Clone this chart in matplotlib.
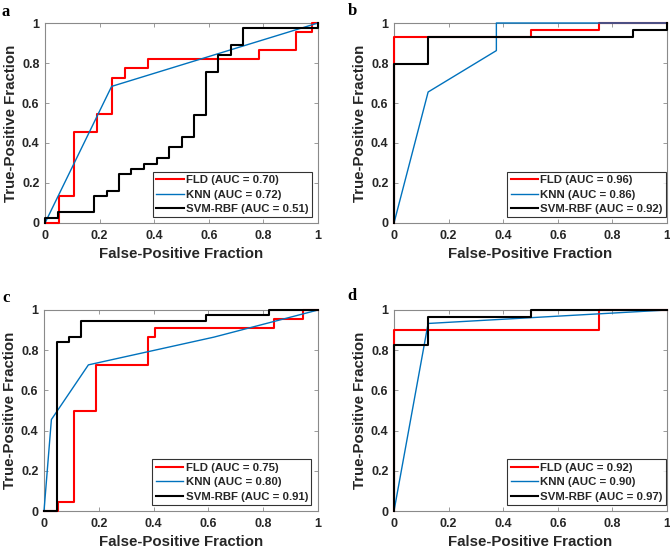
import numpy as np
import matplotlib.pyplot as plt

# ROC corner points, drawn with steps-post
# (KNN curves are straight segments between the points)

# panel a
fld_a_fpr = [0, 0.052, 0.105, 0.19, 0.244, 0.293, 0.378, 0.784, 0.918, 0.977, 1]
fld_a_tpr = [0, 0.136, 0.455, 0.545, 0.727, 0.773, 0.818, 0.864, 0.955, 1, 1]
knn_a_fpr = [0, 0.244, 1]
knn_a_tpr = [0, 0.683, 1]
svm_a_fpr = [0, 0, 0.047, 0.18, 0.226, 0.272, 0.314, 0.363, 0.409, 0.455, 0.5,
             0.546, 0.588, 0.635, 0.681, 0.726, 1]
svm_a_tpr = [0, 0.027, 0.054, 0.135, 0.162, 0.243, 0.27, 0.297, 0.324, 0.378,
             0.432, 0.54, 0.757, 0.838, 0.892, 0.973, 1]

# panel b
fld_b_fpr = [0, 0, 0.5, 0.75, 1]
fld_b_tpr = [0, 0.931, 0.966, 1, 1]
knn_b_fpr = [0, 0.125, 0.375, 0.375, 1]
knn_b_tpr = [0, 0.655, 0.862, 1, 1]
svm_b_fpr = [0, 0, 0.125, 0.875, 1]
svm_b_tpr = [0, 0.793, 0.931, 0.966, 1]

# panel c
fld_c_fpr = [0, 0.051, 0.108, 0.19, 0.38, 0.405, 0.84, 0.946, 1]
fld_c_tpr = [0, 0.045, 0.5, 0.727, 0.864, 0.909, 0.955, 1, 1]
knn_c_fpr = [0, 0.027, 0.162, 0.62, 1]
knn_c_tpr = [0, 0.455, 0.727, 0.865, 1]
svm_c_fpr = [0, 0.047, 0.09, 0.136, 0.59, 0.82, 1]
svm_c_tpr = [0, 0.84, 0.864, 0.946, 0.973, 1, 1]

# panel d
fld_d_fpr = [0, 0, 0.75, 1]
fld_d_tpr = [0, 0.9, 1, 1]
knn_d_fpr = [0, 0.125, 1]
knn_d_tpr = [0, 0.933, 1]
svm_d_fpr = [0, 0, 0.125, 0.5, 1]
svm_d_tpr = [0, 0.828, 0.966, 1, 1]

auc_fld = [0.70, 0.96, 0.75, 0.92]
auc_knn = [0.72, 0.86, 0.80, 0.90]
auc_svm = [0.51, 0.92, 0.91, 0.97]
panel_letters = ['a', 'b', 'c', 'd']

fld_curves = [(fld_a_fpr, fld_a_tpr), (fld_b_fpr, fld_b_tpr),
              (fld_c_fpr, fld_c_tpr), (fld_d_fpr, fld_d_tpr)]
knn_curves = [(knn_a_fpr, knn_a_tpr), (knn_b_fpr, knn_b_tpr),
              (knn_c_fpr, knn_c_tpr), (knn_d_fpr, knn_d_tpr)]
svm_curves = [(svm_a_fpr, svm_a_tpr), (svm_b_fpr, svm_b_tpr),
              (svm_c_fpr, svm_c_tpr), (svm_d_fpr, svm_d_tpr)]

plt.rcParams['font.family'] = ['Liberation Sans', 'DejaVu Sans']
plt.rcParams['font.weight'] = 'bold'

W, H = 670, 549
fig = plt.figure(figsize=(W / 100, H / 100), dpi=100)

# axes boxes in pixels: left, top, right, bottom
boxes = [(45, 23, 318, 223), (394, 23, 667, 223),
         (44, 310, 318, 511), (394, 310, 667, 511)]
legend_anchor = [(0.978, 0.028), (0.997, 0.028), (0.976, 0.03), (0.997, 0.03)]
letter_pos = [(2, 4), (348, 3), (2, 290), (347, 288)]

red = '#ff0000'
blue = '#0072bd'
grey = '#262626'
edge = '#8a8a8a'

for i in range(4):
    l, t, r, b = boxes[i]
    ax = fig.add_axes([l / W, 1 - b / H, (r - l) / W, (b - t) / H])

    x, y = fld_curves[i]
    ax.plot(x, y, color=red, lw=1.5, drawstyle='steps-post', clip_on=False,
            zorder=3, label='FLD (AUC = {:.2f})'.format(auc_fld[i]))
    x, y = knn_curves[i]
    ax.plot(x, y, color=blue, lw=1.0, clip_on=False, zorder=3,
            label='KNN (AUC = {:.2f})'.format(auc_knn[i]))
    x, y = svm_curves[i]
    ax.plot(x, y, color='black', lw=1.5, drawstyle='steps-post', clip_on=False,
            zorder=3, label='SVM-RBF (AUC = {:.2f})'.format(auc_svm[i]))

    ax.set_xlim(0, 1)
    ax.set_ylim(0, 1)
    ticks = [0, 0.2, 0.4, 0.6, 0.8, 1]
    ax.set_xticks(ticks)
    ax.set_yticks(ticks)
    ax.set_xticklabels(['0', '0.2', '0.4', '0.6', '0.8', '1'])
    ax.set_yticklabels(['0', '0.2', '0.4', '0.6', '0.8', '1'])
    ax.tick_params(direction='in', length=3, width=0.6, top=True, right=True,
                   labelsize=9, colors=edge, labelcolor=grey)
    ax.tick_params(axis='x', pad=5)
    ax.tick_params(axis='y', pad=4)
    for s in ax.spines.values():
        s.set_color(edge)
        s.set_linewidth(0.8)

    ax.set_xlabel('False-Positive Fraction', fontsize=10.8, color=grey,
                  fontweight='bold', labelpad=4)
    ax.set_ylabel('True-Positive Fraction', fontsize=10.8, color=grey,
                  fontweight='bold', labelpad=3)

    leg = ax.legend(loc='lower right', bbox_to_anchor=legend_anchor[i],
                    borderaxespad=0, fontsize=8.2, frameon=True, fancybox=False,
                    handlelength=2.4, handletextpad=0.2, labelspacing=0.38,
                    borderpad=0.3)
    leg.set_zorder(4)
    leg.get_frame().set_edgecolor('black')
    leg.get_frame().set_linewidth(0.8)
    for txt in leg.get_texts():
        txt.set_color(grey)

    lx, ly = letter_pos[i]
    fig.text(lx / W, 1 - ly / H, panel_letters[i], fontsize=12,
             fontweight='bold', family='Liberation Serif', va='top', ha='left')

fig.savefig('out.png', dpi=100)
